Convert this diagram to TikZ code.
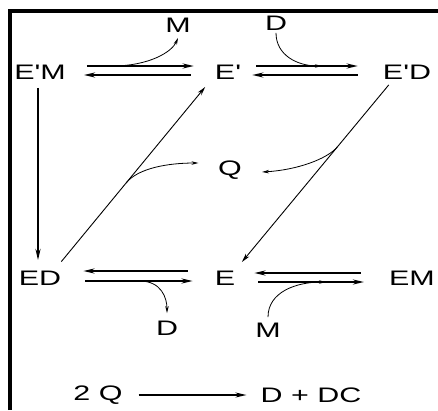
\documentclass[tikz,border=0pt]{standalone}
\usepackage{fontspec}
\setmainfont{Liberation Sans}[FakeStretch=1.45,Ligatures=TeXOff]
\usetikzlibrary{arrows.meta}

\begin{document}
\begin{tikzpicture}[x=1pt,y=-1pt,
    spc/.style={inner sep=0pt, font=\fontsize{21}{24}\selectfont},
    rxn/.style={line width=2pt, -{Stealth[length=11pt,width=5pt]}},
    diag/.style={line width=0.9pt, -{Stealth[length=9pt,width=4.5pt]}},
    side/.style={line width=0.8pt, -{Stealth[length=7pt,width=3.5pt]}},
]
\useasboundingbox (0,0) rectangle (438,410);
\draw[line width=3.3pt] (10,410) -- (10,11) -- (438,11);

% --- species ---
\node[spc] (EpM) at (40,72) {E'M};
\node[spc] (Ep)  at (228,72) {E'};
\node[spc] (EpD) at (407,72) {E'D};
\node[spc] (Q)   at (230,170) {Q};
\node[spc] (ED)  at (40,278) {ED};
\node[spc] (E)   at (225,278) {E};
\node[spc] (EM)  at (412,278) {EM};
% --- released / bound ligands ---
\node[spc] (Mout) at (178,25) {M};
\node[spc] (Din)  at (276,23) {D};
\node[spc] (Dout) at (167,328) {D};
\node[spc] (Min)  at (268,330) {M};

% --- upper row ---
\draw[rxn, shorten <=21pt, shorten >=21pt] ([yshift=6pt]EpM.east) -- coordinate[pos=0.31] (m1) ([yshift=6pt]Ep.west);
\draw[rxn, shorten <=24pt, shorten >=18pt] ([yshift=-3pt]Ep.west) -- ([yshift=-3pt]EpM.east);
\draw[rxn, shorten <=15pt, shorten >=25pt] ([yshift=6pt]Ep.east) -- coordinate[pos=0.57] (d1) ([yshift=6pt]EpD.west);
\draw[rxn, shorten <=25pt, shorten >=11pt] ([yshift=-3pt]EpD.west) -- ([yshift=-3pt]Ep.east);
\draw[side] (m1) .. controls +(37,0) and +(-6,14) .. ([yshift=-5.5pt]Mout.south);
\draw[side] ([yshift=-2.5pt]Din.south) .. controls +(0,22) and +(-25,0) .. (d1);

% --- lower row ---
\draw[rxn, shorten <=27pt, shorten >=22pt] ([yshift=7pt]E.west) -- ([yshift=7pt]ED.east);
\draw[rxn, shorten <=24pt, shorten >=22pt] ([yshift=-3pt]ED.east) -- coordinate[pos=0.51] (d2) ([yshift=-3pt]E.west);
\draw[rxn, shorten <=28pt, shorten >=19pt] ([yshift=5pt]EM.west) -- ([yshift=5pt]E.east);
\draw[rxn, shorten <=23pt, shorten >=25pt] ([yshift=-4pt]E.east) -- coordinate[pos=0.59] (m2) ([yshift=-4pt]EM.west);
\draw[side] (d2) .. controls +(22,0) and +(0,-15) .. ([yshift=7.5pt]Dout.north);
\draw[side] ([yshift=5.5pt]Min.north) .. controls +(0,-25) and +(-30,0) .. (m2);

% --- cross steps ---
\draw[rxn] ([xshift=-2pt,yshift=-8.5pt]EpM.south) -- ([xshift=-2pt,yshift=10.5pt]ED.north);
\draw[diag] ([yshift=9pt]ED.north east) -- coordinate[pos=0.45] (q1) ([xshift=-9.5pt,yshift=-7.5pt]Ep.south west);
\draw[diag] ([xshift=6pt,yshift=-5.5pt]EpD.south west) -- coordinate[pos=0.35] (q2) ([xshift=6.5pt,yshift=8.5pt]E.north east);
\draw[side] (q1) .. controls +(12,-15) and +(-30,0) .. ([xshift=-19.5pt,yshift=7pt]Q.west);
\draw[side] (q2) .. controls +(-10,12) and +(35,-2) .. ([xshift=20pt,yshift=-2pt]Q.east);

% --- overall ---
\node[spc] (TwoQ) at (98,395) {2 Q};
\node[spc] (DDC)  at (311,395) {D + DC};
\draw[rxn, line width=1.6pt, shorten <=16pt, shorten >=14pt] (TwoQ.east) -- (DDC.west);
\end{tikzpicture}
\end{document}
